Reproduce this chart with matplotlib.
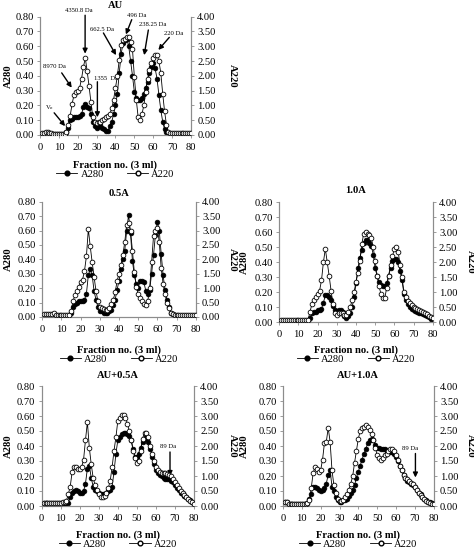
import matplotlib
matplotlib.use("Agg")
import matplotlib.pyplot as plt
from matplotlib.lines import Line2D

plt.rcParams['font.family'] = ['Liberation Serif', 'DejaVu Serif']
plt.rcParams['mathtext.fontset'] = 'stix'

fractions = list(range(1, 81))

# ---------------- data (A280 on left axis, A220 on right axis) ----------------
au_a280 = [0.01, 0.01, 0.01, 0.01, 0.01, 0.01, 0.01, 0.01, 0.01, 0.01,
           0.01, 0.01, 0.01, 0.02, 0.05, 0.10, 0.11, 0.12, 0.12, 0.12,
           0.13, 0.14, 0.19, 0.21, 0.19, 0.18, 0.14, 0.09, 0.06, 0.05,
           0.06, 0.07, 0.05, 0.04, 0.03, 0.03, 0.06, 0.09, 0.14, 0.20,
           0.28, 0.42, 0.55, 0.62, 0.64, 0.65, 0.60, 0.50, 0.40, 0.29,
           0.25, 0.235, 0.235, 0.25, 0.28, 0.32, 0.36, 0.42, 0.46, 0.49,
           0.45, 0.38, 0.27, 0.17, 0.09, 0.04, 0.02, 0.01, 0.01, 0.01,
           0.01, 0.01, 0.01, 0.01, 0.01, 0.01, 0.01, 0.01, 0.01, 0.01]
au_a220 = [0.08, 0.08, 0.09, 0.09, 0.08, 0.06, 0.05, 0.05, 0.04, 0.04,
           0.04, 0.04, 0.05, 0.10, 0.35, 0.65, 1.05, 1.35, 1.45, 1.50,
           1.60, 1.90, 2.30, 2.60, 2.15, 1.65, 1.10, 0.60, 0.45, 0.40,
           0.45, 0.45, 0.50, 0.55, 0.60, 0.65, 0.70, 0.90, 1.20, 1.60,
           2.00, 2.55, 3.05, 3.20, 3.25, 3.30, 3.30, 3.15, 2.90, 1.95,
           1.20, 0.60, 0.50, 0.70, 1.00, 1.45, 1.90, 2.20, 2.45, 2.60,
           2.70, 2.70, 2.50, 2.10, 1.40, 0.80, 0.35, 0.10, 0.06, 0.06,
           0.06, 0.06, 0.06, 0.06, 0.06, 0.06, 0.06, 0.06, 0.06, 0.06]

a05_a280 = [0.01, 0.01, 0.01, 0.01, 0.01, 0.02, 0.01, 0.01, 0.01, 0.01,
            0.01, 0.01, 0.01, 0.01, 0.03, 0.07, 0.09, 0.10, 0.11, 0.11,
            0.11, 0.12, 0.16, 0.29, 0.33, 0.29, 0.18, 0.12, 0.07, 0.04,
            0.04, 0.03, 0.03, 0.03, 0.04, 0.05, 0.08, 0.12, 0.19, 0.25,
            0.33, 0.40, 0.46, 0.60, 0.71, 0.58, 0.39, 0.29, 0.23, 0.20,
            0.25, 0.25, 0.24, 0.18, 0.16, 0.19, 0.30, 0.43, 0.57, 0.66,
            0.60, 0.44, 0.29, 0.19, 0.12, 0.07, 0.03, 0.02, 0.01, 0.01,
            0.01, 0.01, 0.01, 0.01, 0.01, 0.01, 0.01, 0.01, 0.01, 0.01]
a05_a220 = [0.10, 0.10, 0.10, 0.10, 0.10, 0.15, 0.08, 0.07, 0.07, 0.07,
            0.07, 0.07, 0.07, 0.07, 0.20, 0.55, 0.75, 0.90, 1.05, 1.20,
            1.30, 1.60, 2.10, 3.05, 2.45, 1.90, 1.40, 0.90, 0.55, 0.35,
            0.30, 0.28, 0.25, 0.25, 0.30, 0.45, 0.60, 0.85, 1.25, 1.50,
            1.80, 2.15, 2.60, 3.20, 3.25, 3.00, 2.30, 1.55, 1.05, 0.80,
            0.65, 0.55, 0.45, 0.40, 0.55, 1.00, 1.90, 2.80, 3.00, 3.10,
            2.60, 1.70, 1.15, 0.80, 0.50, 0.30, 0.15, 0.10, 0.07, 0.07,
            0.07, 0.07, 0.07, 0.07, 0.07, 0.07, 0.07, 0.07, 0.07, 0.07]

a10_a280 = [0.01, 0.01, 0.01, 0.01, 0.01, 0.01, 0.01, 0.01, 0.01, 0.01,
            0.01, 0.01, 0.01, 0.01, 0.01, 0.03, 0.06, 0.07, 0.07, 0.08,
            0.08, 0.09, 0.13, 0.18, 0.18, 0.17, 0.15, 0.11, 0.08, 0.07,
            0.08, 0.08, 0.07, 0.04, 0.03, 0.04, 0.06, 0.10, 0.17, 0.26,
            0.36, 0.43, 0.48, 0.53, 0.55, 0.55, 0.53, 0.51, 0.45, 0.36,
            0.31, 0.27, 0.25, 0.24, 0.24, 0.26, 0.31, 0.36, 0.41, 0.42,
            0.42, 0.40, 0.34, 0.28, 0.19, 0.15, 0.12, 0.10, 0.09, 0.08,
            0.075, 0.07, 0.065, 0.06, 0.055, 0.05, 0.04, 0.035, 0.025, 0.02]
a10_a220 = [0.07, 0.07, 0.07, 0.07, 0.07, 0.07, 0.07, 0.07, 0.07, 0.07,
            0.07, 0.07, 0.07, 0.07, 0.07, 0.35, 0.60, 0.75, 0.85, 0.95,
            1.05, 1.40, 2.00, 2.45, 2.00, 1.55, 1.05, 0.60, 0.30, 0.25,
            0.30, 0.30, 0.30, 0.25, 0.25, 0.35, 0.50, 0.75, 1.00, 1.35,
            1.65, 2.05, 2.60, 2.95, 3.00, 2.95, 2.90, 2.80, 2.50, 2.05,
            1.55, 1.20, 0.95, 0.80, 0.80, 1.15, 1.55, 1.90, 2.20, 2.45,
            2.50, 2.35, 1.90, 1.50, 1.00, 0.85, 0.70, 0.63, 0.57, 0.52,
            0.48, 0.45, 0.42, 0.38, 0.35, 0.30, 0.27, 0.22, 0.18, 0.15]

au05_a280 = [0.02, 0.02, 0.02, 0.02, 0.02, 0.02, 0.02, 0.02, 0.02, 0.02,
             0.02, 0.02, 0.02, 0.02, 0.06, 0.09, 0.10, 0.11, 0.10, 0.09,
             0.09, 0.10, 0.15, 0.25, 0.27, 0.19, 0.13, 0.11, 0.10, 0.09,
             0.08, 0.08, 0.08, 0.09, 0.10, 0.11, 0.13, 0.23, 0.35, 0.44,
             0.46, 0.48, 0.49, 0.49, 0.48, 0.47, 0.44, 0.38, 0.33, 0.33,
             0.35, 0.39, 0.43, 0.45, 0.46, 0.43, 0.38, 0.33, 0.28, 0.24,
             0.22, 0.21, 0.20, 0.19, 0.18, 0.18, 0.18, 0.17, 0.16, 0.14,
             0.12, 0.11, 0.09, 0.08, 0.07, 0.06, 0.05, 0.04, 0.03, 0.02]
au05_a220 = [0.10, 0.10, 0.10, 0.10, 0.10, 0.10, 0.10, 0.10, 0.10, 0.10,
             0.12, 0.15, 0.18, 0.40, 0.65, 1.15, 1.30, 1.30, 1.25, 1.25,
             1.30, 1.55, 2.20, 2.80, 1.95, 1.40, 0.95, 0.70, 0.55, 0.40,
             0.30, 0.30, 0.35, 0.45, 0.60, 0.85, 1.30, 1.85, 2.30, 2.85,
             2.95, 3.05, 3.05, 2.95, 2.75, 2.50, 2.20, 1.85, 1.60, 1.45,
             1.50, 1.85, 2.25, 2.45, 2.45, 2.30, 2.00, 1.75, 1.50, 1.30,
             1.20, 1.15, 1.10, 1.10, 1.10, 1.08, 1.05, 1.00, 0.90, 0.80,
             0.70, 0.60, 0.50, 0.45, 0.38, 0.30, 0.25, 0.18, 0.12, 0.08]

au10_a280 = [0.03, 0.025, 0.015, 0.015, 0.015, 0.015, 0.015, 0.015, 0.015, 0.015,
             0.015, 0.015, 0.02, 0.05, 0.08, 0.13, 0.13, 0.12, 0.11, 0.10,
             0.11, 0.12, 0.15, 0.21, 0.24, 0.13, 0.10, 0.06, 0.04, 0.03,
             0.03, 0.04, 0.04, 0.05, 0.07, 0.09, 0.11, 0.14, 0.19, 0.23,
             0.27, 0.31, 0.35, 0.38, 0.42, 0.44, 0.45, 0.44, 0.41, 0.39,
             0.39, 0.38, 0.38, 0.38, 0.37, 0.37, 0.36, 0.36, 0.35, 0.33,
             0.30, 0.27, 0.24, 0.21, 0.19, 0.17, 0.16, 0.15, 0.14, 0.13,
             0.11, 0.09, 0.08, 0.06, 0.05, 0.04, 0.03, 0.025, 0.02, 0.015]
au10_a220 = [0.15, 0.12, 0.08, 0.08, 0.08, 0.08, 0.08, 0.08, 0.08, 0.08,
             0.08, 0.08, 0.10, 0.20, 0.60, 1.10, 1.30, 1.25, 1.15, 1.20,
             1.55, 2.10, 2.15, 2.60, 2.15, 1.20, 0.70, 0.45, 0.25, 0.18,
             0.18, 0.20, 0.30, 0.40, 0.55, 0.75, 1.00, 1.45, 1.85, 2.25,
             2.50, 2.60, 2.65, 2.70, 2.65, 2.55, 2.40, 2.20, 1.95, 1.70,
             1.60, 1.55, 1.60, 1.70, 1.75, 1.85, 1.90, 1.90, 1.85, 1.70,
             1.55, 1.35, 1.20, 1.05, 0.95, 0.90, 0.85, 0.78, 0.72, 0.65,
             0.55, 0.45, 0.38, 0.30, 0.22, 0.17, 0.12, 0.10, 0.08, 0.06]

titles = ["AU", "0.5A", "1.0A", "AU+0.5A", "AU+1.0A"]
series280 = [au_a280, a05_a280, a10_a280, au05_a280, au10_a280]
series220 = [au_a220, a05_a220, a10_a220, au05_a220, au10_a220]

left_ticks = [0.0, 0.1, 0.2, 0.3, 0.4, 0.5, 0.6, 0.7, 0.8]
right_ticks = [0.0, 0.5, 1.0, 1.5, 2.0, 2.5, 3.0, 3.5, 4.0]
x_ticks = [0, 10, 20, 30, 40, 50, 60, 70, 80]

# ---------------- layout (pixels: left, right, top, bottom) ----------------
W, H = 474, 550
panels = [
    dict(px=(40, 191, 16.7, 135), title_y=1.099, xl_y=-0.211, lg_y=-0.33, yl_x=8, yr_x=232),
    dict(px=(42.3, 195.7, 201.7, 317), title_y=1.078, xl_y=-0.25, lg_y=-0.364, yl_x=8.3, yr_x=232),
    dict(px=(279.3, 432.7, 202.3, 322.3), title_y=1.103, xl_y=-0.19, lg_y=-0.306, yl_x=244.3, yr_x=470),
    dict(px=(41.7, 194, 386, 506), title_y=1.092, xl_y=-0.2, lg_y=-0.317, yl_x=8, yr_x=232),
    dict(px=(283, 433.7, 386, 506), title_y=1.092, xl_y=-0.2, lg_y=-0.317, yl_x=244.3, yr_x=470.3),
]

fig = plt.figure(figsize=(W / 100, H / 100), dpi=100)
fig.patch.set_facecolor('white')

spine_col = '#8c8c8c'
fs_tick = 7.6
fs_lab = 7.6

axes_main = []
for i, p in enumerate(panels):
    l, r, t, b = p['px']
    ax = fig.add_axes([l / W, 1 - b / H, (r - l) / W, (b - t) / H])
    ax2 = ax.twinx()
    ax.set_xlim(0, 80)
    ax.set_ylim(0, 0.8)
    ax2.set_ylim(0, 4.0)
    ax.plot(fractions, series280[i], color='black', lw=0.6, marker='o', ms=3.4,
            mfc='black', mec='black', mew=0.5, zorder=3)
    ax2.plot(fractions, series220[i], color='black', lw=0.6, marker='o', ms=3.4,
             mfc='white', mec='black', mew=0.6, zorder=3)
    for a in (ax, ax2):
        a.spines['top'].set_visible(False)
        for s in ('left', 'right', 'bottom'):
            a.spines[s].set_color(spine_col)
            a.spines[s].set_linewidth(0.8)
        a.tick_params(colors=spine_col, labelcolor='black', labelsize=fs_tick,
                      length=2.5, width=0.6, pad=2)
    ax.set_xticks(x_ticks)
    ax.set_yticks(left_ticks)
    ax.set_yticklabels([f"{v:.2f}" for v in left_ticks])
    ax2.set_yticks(right_ticks)
    ax2.set_yticklabels([f"{v:.2f}" for v in right_ticks])
    ax.tick_params(axis='x', pad=3)
    ax.set_title(titles[i], fontsize=fs_lab, fontweight='bold', y=p['title_y'] - 0.028, pad=0)
    ax.set_xlabel("Fraction no. (3 ml)", fontsize=fs_lab, fontweight='bold')
    ax.xaxis.set_label_coords(0.5, p['xl_y'])
    wpx = r - l
    ax.set_ylabel("A280", fontsize=fs_lab, fontweight='bold', va='center', ha='center')
    ax.yaxis.set_label_coords((p['yl_x'] - l) / wpx, 0.5)
    ax2.set_ylabel("A220", fontsize=fs_lab, fontweight='bold', rotation=270, va='center', ha='center')
    ax2.yaxis.set_label_coords((p['yr_x'] - l) / wpx, 0.5)
    h1 = Line2D([], [], color='black', lw=0.6, marker='o', ms=3.4, mfc='black', mec='black')
    h2 = Line2D([], [], color='black', lw=0.6, marker='o', ms=3.4, mfc='white', mec='black')
    ax.legend([h1, h2], ["A280", "A220"], loc='center', bbox_to_anchor=(0.5, p['lg_y']),
              ncol=2, frameon=False, fontsize=fs_tick, handlelength=2.0,
              handletextpad=0.3, columnspacing=2.2, borderaxespad=0)
    axes_main.append(ax)

# ---------------- annotations ----------------
arrow_kw = dict(arrowstyle='-|>', color='black', lw=1.0, mutation_scale=7, shrinkA=0, shrinkB=0)
fs_ann = 4.8

ax = axes_main[0]
au_arrows = [((7.5, 0.15), (13.3, 0.06)),
             ((11.5, 0.42), (16.8, 0.32)),
             ((23.9, 0.81), (23.9, 0.55)),
             ((30.4, 0.36), (30.4, 0.12)),
             ((33.6, 0.69), (40.3, 0.54)),
             ((48.6, 0.78), (45.5, 0.68)),
             ((57.4, 0.71), (55.2, 0.54)),
             ((68.5, 0.66), (62.7, 0.575))]
for tail, tip in au_arrows:
    ax.annotate('', xy=tip, xytext=tail, arrowprops=arrow_kw, annotation_clip=False)
au_texts = [(r'V$_\mathrm{o}$', 5.3, 0.185),
            ("8970 Da", 7.6, 0.466),
            ("4350.8 Da", 20.8, 0.845),
            ("1355  Da", 34.8, 0.38),
            ("662.5 Da", 32.9, 0.714),
            ("496 Da", 51.0, 0.81),
            ("238.25 Da", 59.5, 0.744),
            ("220 Da", 70.7, 0.687)]
for txt, x, y in au_texts:
    ax.text(x, y, txt, fontsize=fs_ann, ha='center', va='center', clip_on=False)

ax = axes_main[3]
ax.annotate('', xy=(67.4, 0.20), xytext=(67.4, 0.36), arrowprops=arrow_kw)
ax.text(66.5, 0.40, "89 Da", fontsize=fs_ann, ha='center', va='center')

ax = axes_main[4]
ax.annotate('', xy=(70.3, 0.19), xytext=(70.3, 0.35), arrowprops=arrow_kw)
ax.text(67.6, 0.38, "89 Da", fontsize=fs_ann, ha='center', va='center')

fig.savefig("out.png", dpi=100, facecolor='white')
